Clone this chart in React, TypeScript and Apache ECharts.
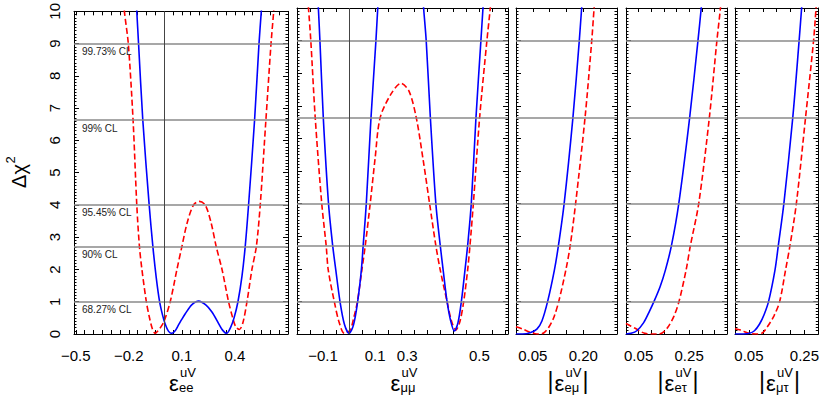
import React, { useEffect, useRef } from 'react';
import * as echarts from 'echarts';

// ---------- data ----------
const Y_LABELS = [0, 1, 2, 3, 4, 5, 6, 7, 8, 9, 10];
const CL_LEVELS = [1, 2.71, 4, 6.63, 9];
const CL_NAMES = ['68.27% CL', '90% CL', '95.45% CL', '99% CL', '99.73% CL'];

const EE_TICK_LABELS = [-0.5, -0.2, 0.1, 0.4];
const MM_TICK_LABELS = [-0.1, 0.1, 0.3, 0.5];
const EMU_TICK_LABELS = [0.05, 0.2];
const ETAU_TICK_LABELS = [0.05, 0.25];
const MUTAU_TICK_LABELS = [0.05, 0.25];

const EE_BLUE = [
  [-0.161, 10.6], [-0.155, 10], [-0.145, 9], [-0.121, 6.63], [-0.085, 4], [-0.064, 2.71],
  [-0.045, 1.75], [-0.026, 1], [-0.01, 0.6], [0.005, 0.32], [0.025, 0.08], [0.043, 0.02],
  [0.062, 0.1], [0.081, 0.28], [0.1, 0.46], [0.119, 0.63], [0.157, 0.91], [0.195, 1.02],
  [0.235, 0.9], [0.27, 0.68], [0.307, 0.33], [0.33, 0.12], [0.353, 0.02], [0.375, 0.2],
  [0.395, 0.5], [0.417, 1], [0.44, 1.8], [0.458, 2.71], [0.477, 4], [0.511, 6.63],
  [0.536, 9], [0.549, 10], [0.556, 10.6],
];
const EE_RED = [
  [-0.232, 10.6], [-0.225, 10], [-0.203, 9], [-0.176, 6.63], [-0.155, 4], [-0.14, 2.71],
  [-0.126, 2], [-0.101, 1], [-0.085, 0.55], [-0.068, 0.18], [-0.051, 0.02], [-0.035, 0.1],
  [-0.015, 0.25], [0, 0.4], [0.034, 1], [0.072, 2], [0.1, 2.71], [0.13, 3.45], [0.166, 4],
  [0.198, 4.11], [0.232, 4], [0.265, 3.45], [0.294, 2.71], [0.327, 2], [0.364, 1],
  [0.39, 0.45], [0.405, 0.22], [0.425, 0.14], [0.445, 0.35], [0.468, 1], [0.496, 2],
  [0.521, 2.71], [0.543, 4], [0.575, 6.63], [0.604, 9], [0.619, 10], [0.626, 10.6],
];
const MM_BLUE = [
  [-0.122, 10.6], [-0.118, 10], [-0.112, 9], [-0.099, 6.63], [-0.079, 4], [-0.063, 2.71],
  [-0.051, 1.96], [-0.035, 1], [-0.018, 0.3], [0, 0.02], [0.017, 0.28], [0.033, 1],
  [0.047, 1.96], [0.054, 2.71], [0.066, 4], [0.084, 6.63], [0.103, 9], [0.11, 10],
  [0.115, 10.6], [0.2, null], [0.281, 10.6], [0.286, 10], [0.296, 9], [0.312, 6.63],
  [0.333, 4], [0.35, 2.71], [0.362, 1.9], [0.376, 1], [0.39, 0.4], [0.404, 0.09],
  [0.418, 0.35], [0.431, 1], [0.444, 1.9], [0.455, 2.71], [0.469, 4], [0.487, 6.63],
  [0.506, 9], [0.514, 10], [0.519, 10.6],
];
const MM_RED = [
  [-0.162, 10.6], [-0.156, 10], [-0.147, 9], [-0.13, 6.63], [-0.105, 4], [-0.088, 2.71],
  [-0.08, 1.96], [-0.057, 1], [-0.038, 0.35], [-0.018, 0.02], [0.004, 0.12], [0.018, 0.5],
  [0.032, 1], [0.049, 1.96], [0.062, 2.71], [0.081, 4], [0.1, 5.4], [0.119, 6.63],
  [0.16, 7.35], [0.199, 7.69], [0.23, 7.45], [0.258, 6.63], [0.285, 5.3], [0.309, 4],
  [0.333, 2.71], [0.35, 1.96], [0.376, 1], [0.393, 0.4], [0.41, 0.12], [0.426, 0.4],
  [0.44, 1], [0.455, 1.96], [0.464, 2.71], [0.477, 4], [0.501, 6.63], [0.529, 9],
  [0.542, 10], [0.548, 10.6],
];
const EMU_BLUE = [
  [0, 0], [0.02, 0], [0.042, 0.04], [0.062, 0.15], [0.077, 0.4], [0.094, 1], [0.114, 1.96],
  [0.126, 2.71], [0.143, 4], [0.169, 6.63], [0.188, 9], [0.195, 10], [0.2, 10.6],
];
const EMU_RED = [
  [0, 0.22], [0.02, 0.15], [0.04, 0.06], [0.057, 0.01], [0.07, 0], [0.082, 0.03],
  [0.097, 0.2], [0.112, 0.5], [0.127, 1], [0.148, 1.96], [0.161, 2.71], [0.177, 4],
  [0.205, 6.63], [0.225, 9], [0.232, 10], [0.237, 10.6],
];
const ETAU_BLUE = [
  [0, 0], [0.02, 0.02], [0.043, 0.1], [0.07, 0.35], [0.09, 0.65], [0.111, 1], [0.135, 1.45],
  [0.156, 1.96], [0.18, 2.71], [0.209, 4], [0.252, 6.63], [0.285, 9], [0.298, 10], [0.305, 10.6],
];
const ETAU_RED = [
  [0, 0.32], [0.02, 0.24], [0.04, 0.16], [0.057, 0.08], [0.075, 0.02], [0.1, 0], [0.125, 0],
  [0.143, 0.03], [0.165, 0.2], [0.19, 0.55], [0.21, 1], [0.238, 1.96], [0.255, 2.71],
  [0.288, 4], [0.33, 6.63], [0.36, 9], [0.374, 10], [0.38, 10.6],
];
const MUTAU_BLUE = [
  [0, 0], [0.03, 0], [0.052, 0.02], [0.07, 0.1], [0.088, 0.3], [0.105, 0.6], [0.121, 1],
  [0.144, 1.96], [0.156, 2.71], [0.176, 4], [0.208, 6.63], [0.231, 9], [0.24, 10], [0.245, 10.6],
];
const MUTAU_RED = [
  [0, 0.16], [0.02, 0.12], [0.04, 0.05], [0.055, 0.01], [0.075, 0], [0.098, 0.03],
  [0.115, 0.2], [0.14, 0.55], [0.161, 1], [0.182, 1.96], [0.198, 2.71], [0.221, 4],
  [0.254, 6.63], [0.283, 9], [0.292, 10], [0.297, 10.6],
];

// ---------- layout / style ----------
const FONT = '"Liberation Sans", Arial, Helvetica, sans-serif';
const TOP = 8;
const HEIGHT = 326;

const PANELS = [
  { left: 74, width: 214, min: -0.51, max: 0.7, tickFrom: -0.5, tickTo: 0.7, labels: EE_TICK_LABELS, dec: 1, blue: EE_BLUE, red: EE_RED, zero: true, sub: 'ee', abs: false, shift: null as number | null },
  { left: 297, width: 211, min: -0.2, max: 0.61, tickFrom: -0.2, tickTo: 0.6, labels: MM_TICK_LABELS, dec: 1, blue: MM_BLUE, red: MM_RED, zero: true, sub: 'μμ', abs: false, shift: 0.3 },
  { left: 516, width: 101, min: 0, max: 0.3, tickFrom: 0, tickTo: 0.3, labels: EMU_TICK_LABELS, dec: 2, blue: EMU_BLUE, red: EMU_RED, zero: false, sub: 'eμ', abs: true, shift: null },
  { left: 626, width: 101, min: 0, max: 0.4, tickFrom: 0, tickTo: 0.4, labels: ETAU_TICK_LABELS, dec: 2, blue: ETAU_BLUE, red: ETAU_RED, zero: false, sub: 'eτ', abs: true, shift: null },
  { left: 735, width: 86, min: 0, max: 0.3, tickFrom: 0, tickTo: 0.3, labels: MUTAU_TICK_LABELS, dec: 2, blue: MUTAU_BLUE, red: MUTAU_RED, zero: false, sub: 'μτ', abs: true, shift: null },
];

function tickList(from: number, to: number) {
  const out: number[] = [];
  for (let v = from; v <= to + 1e-9; v += 0.05) out.push(Math.round(v * 1000) / 1000);
  return out;
}

function fmt(v: number, dec: number) {
  const s = Math.abs(v).toFixed(dec);
  return v < 0 ? '\u2212' + s : s;
}

function titleElements(cx: number, sub: string, abs: boolean) {
  const base = { fill: '#000', fontFamily: FONT, verticalAlign: 'middle' };
  const els: any[] = [
    { type: 'text', x: cx - 7, y: 383, style: { ...base, text: 'ε', fontSize: 22, align: 'center' } },
    { type: 'text', x: cx - 1, y: 372, style: { ...base, text: 'uV', fontSize: 13, align: 'left' } },
    { type: 'text', x: cx - 2, y: 387.5, style: { ...base, text: sub, fontSize: 13, align: 'left' } },
  ];
  if (abs) {
    els.push({ type: 'text', x: cx - 16, y: 381, style: { ...base, text: '|', fontSize: 23, align: 'center' } });
    els.push({ type: 'text', x: cx + 19, y: 381, style: { ...base, text: '|', fontSize: 23, align: 'center' } });
  }
  return els;
}

function buildOption() {
  const grid: any[] = [];
  const xAxis: any[] = [];
  const yAxis: any[] = [];
  const series: any[] = [];
  const graphic: any[] = [];
  const axisLine = { show: true, onZero: false, lineStyle: { color: '#000', width: 1 } };

  PANELS.forEach((p, i) => {
    grid.push({ left: p.left, top: TOP, width: p.width, height: HEIGHT });
    const ticks = tickList(p.tickFrom, p.tickTo);
    xAxis.push({
      gridIndex: i, type: 'value', position: 'bottom', min: p.min, max: p.max,
      axisLine,
      axisTick: { show: true, inside: true, length: 4, customValues: ticks, lineStyle: { color: '#000' } },
      axisLabel: {
        show: true, customValues: p.labels, margin: 14, fontSize: 15, fontFamily: FONT, color: '#000',
        formatter: (v: number) => {
          const t = fmt(v, p.dec);
          if (p.shift !== null && Math.abs(v - p.shift) < 1e-6) return '{s|' + t + '}';
          return t;
        },
        rich: { s: { fontSize: 15, fontFamily: FONT, color: '#000', padding: [0, 40, 0, 0] } },
      },
      splitLine: { show: false },
    });
    xAxis.push({
      gridIndex: i, type: 'value', position: 'top', min: p.min, max: p.max,
      axisLine,
      axisTick: { show: true, inside: true, length: 4, customValues: ticks, lineStyle: { color: '#000' } },
      axisLabel: { show: false },
      splitLine: { show: false },
    });
    const yCommon = {
      gridIndex: i, type: 'value', min: 0, max: 10, interval: 1,
      axisLine,
      axisTick: { show: true, inside: true, length: 5, lineStyle: { color: '#000' } },
      minorTick: { show: true, splitNumber: 10, length: 2.5, lineStyle: { color: '#000' } },
      splitLine: { show: false },
      minorSplitLine: { show: false },
    };
    yAxis.push({
      ...yCommon, position: 'left',
      axisLabel: {
        show: i === 0, rotate: 90, margin: 12, fontSize: 15, fontFamily: FONT, color: '#000',
        formatter: (v: number) => (Y_LABELS.indexOf(v) >= 0 ? String(v) : ''),
      },
    });
    yAxis.push({ ...yCommon, position: 'right', axisLabel: { show: false } });

    const mlData: any[] = CL_LEVELS.map((v, k) => ({
      yAxis: v, name: CL_NAMES[k],
      label: { show: i === 0 },
    }));
    if (p.zero) {
      mlData.push({ xAxis: 0, lineStyle: { color: '#444', width: 1, type: 'solid' }, label: { show: false } });
    }
    series.push({
      type: 'line', xAxisIndex: 2 * i, yAxisIndex: 2 * i, data: [], z: 1, silent: true,
      markLine: {
        silent: true, symbol: ['none', 'none'], animation: false,
        lineStyle: { color: '#8a8a8a', width: 1.6, type: 'solid' },
        label: {
          position: 'insideStartBottom', formatter: '{b}', fontSize: 10, fontFamily: FONT,
          color: '#222', distance: 3, padding: [0, 0, 0, 5],
        },
        emphasis: { disabled: true },
        data: mlData,
      },
    });
    series.push({
      type: 'line', xAxisIndex: 2 * i, yAxisIndex: 2 * i, data: p.red, z: 3,
      showSymbol: false, symbol: 'none', smooth: 0.3, clip: true, connectNulls: false,
      lineStyle: { color: '#ff0000', width: 1.6, type: [6, 3] },
    });
    series.push({
      type: 'line', xAxisIndex: 2 * i, yAxisIndex: 2 * i, data: p.blue, z: 4,
      showSymbol: false, symbol: 'none', smooth: 0.3, clip: true, connectNulls: false,
      lineStyle: { color: '#0000ff', width: 1.6, type: 'solid' },
    });
    graphic.push(...titleElements(p.left + p.width / 2, p.sub, p.abs));
  });

  graphic.push({
    type: 'group', x: 18.5, y: 176, rotation: Math.PI / 2,
    children: [
      { type: 'text', x: 0, y: 0, style: { text: 'Δχ', fontSize: 20, fontFamily: FONT, fill: '#000', align: 'center', verticalAlign: 'middle' } },
      { type: 'text', x: 16, y: -8, style: { text: '2', fontSize: 13, fontFamily: FONT, fill: '#000', align: 'center', verticalAlign: 'middle' } },
    ],
  });

  return {
    animation: false,
    backgroundColor: '#fff',
    grid, xAxis, yAxis, series, graphic,
  };
}

export default function App() {
  const ref = useRef<HTMLDivElement>(null);
  useEffect(() => {
    if (!ref.current) return;
    const chart = echarts.init(ref.current, undefined, { renderer: 'svg' });
    chart.setOption(buildOption() as any);
    return () => chart.dispose();
  }, []);
  return <div ref={ref} style={{ position: 'absolute', left: 0, top: 0, width: 822, height: 395 }} />;
}
